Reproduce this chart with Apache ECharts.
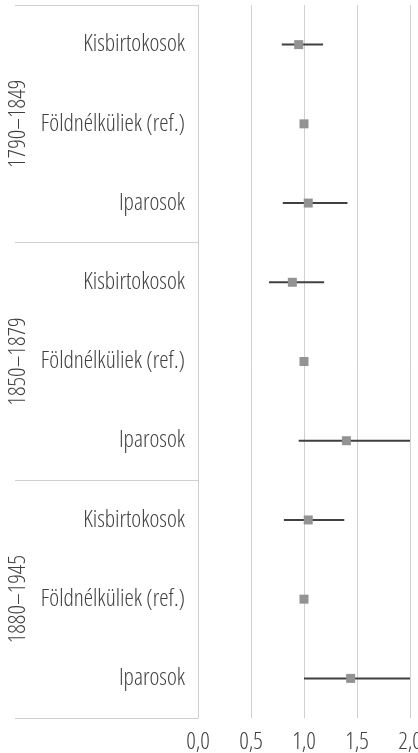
<!DOCTYPE html>
<html>
<head>
<meta charset="utf-8">
<script src="https://cdn.jsdelivr.net/npm/echarts@6/dist/echarts.min.js"></script>
<style>html,body{margin:0;padding:0;background:#fff;}#c{width:418px;height:753px;}</style>
</head>
<body>
<div id="c"></div>
<script>
// ---- data ----
const groups = ['1790–1849', '1850–1879', '1880–1945'];
const subcategories = ['Kisbirtokosok', 'Földnélküliek (ref.)', 'Iparosok'];
const estimates = [0.95, 1.00, 1.04, 0.89, 1.00, 1.40, 1.04, 1.00, 1.44];
const lowerCI   = [0.79, null, 0.80, 0.67, null, 0.95, 0.81, null, 1.00];
const upperCI   = [1.18, null, 1.41, 1.19, null, 2.00, 1.38, null, 2.00];
const xTicks = [0, 0.5, 1, 1.5, 2];

const FONT = "'Open Sans', Roboto, sans-serif";
const TXT = '#404040';
const LINE = '#d0d0d0';
const textBase = {color: TXT, fontFamily: FONT, fontSize: 23.5, fontStyle: 'condensed', fontWeight: 300};

const categories = [];
groups.forEach(() => subcategories.forEach(s => categories.push(s)));

const pointData = estimates.map((v, i) => [v, i]);
const ciData = [];
lowerCI.forEach((lo, i) => { if (lo != null) ciData.push([lo, upperCI[i], i]); });

const chart = echarts.init(document.getElementById('c'), null, {renderer: 'canvas'});
chart.setOption({
  animation: false,
  grid: {left: 198, right: 8, top: 5, bottom: 35, containLabel: false, outerBoundsMode: 'none'},
  xAxis: {
    type: 'value', min: xTicks[0], max: xTicks[xTicks.length - 1], interval: 0.5,
    axisLine: {show: false}, axisTick: {show: false},
    splitLine: {show: true, lineStyle: {color: LINE, width: 1}},
    axisLabel: Object.assign({}, textBase, {
      margin: 12, hideOverlap: false,
      formatter: v => v.toFixed(1).replace('.', ',')
    })
  },
  yAxis: [{
    type: 'category', data: categories, inverse: true,
    axisLine: {show: true, lineStyle: {color: LINE, width: 1}},
    axisTick: {show: false},
    splitLine: {show: false},
    axisLabel: Object.assign({}, textBase, {margin: 13, interval: 0, padding: [5, 0, 0, 0]})
  }, {
    type: 'category', data: groups, inverse: true, position: 'left',
    axisLine: {show: false},
    axisTick: {show: true, length: 183, lineStyle: {color: LINE, width: 1}},
    axisLabel: Object.assign({}, textBase, {rotate: 90, margin: 168, interval: 0})
  }],
  series: [{
    type: 'custom',
    yAxisIndex: 0,
    data: ciData,
    renderItem: (params, api) => {
      const a = api.coord([api.value(0), api.value(2)]);
      const b = api.coord([api.value(1), api.value(2)]);
      return {type: 'line', shape: {x1: a[0], y1: a[1], x2: b[0], y2: b[1]},
        style: {stroke: '#404040', lineWidth: 2}};
    },
    encode: {x: [0, 1], y: 2},
    z: 2
  }, {
    type: 'scatter',
    yAxisIndex: 0,
    data: pointData,
    symbol: 'rect', symbolSize: 9,
    itemStyle: {color: '#939393', opacity: 1},
    z: 3
  }]
});
</script>
</body>
</html>
